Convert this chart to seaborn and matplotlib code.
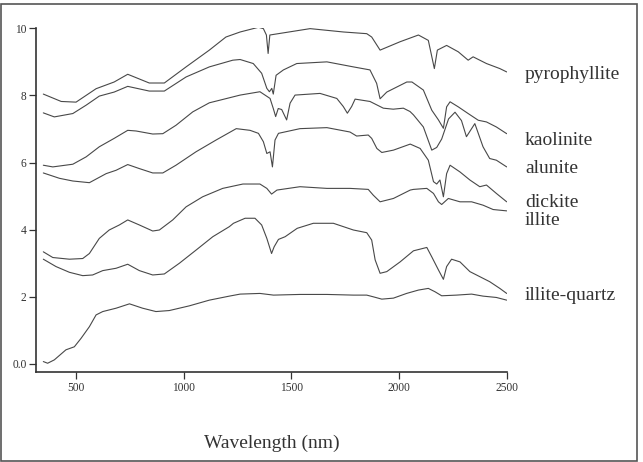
import matplotlib
matplotlib.use("Agg")
import matplotlib.pyplot as plt
import seaborn as sns
from matplotlib.patches import Rectangle

# reflectance spectra (wavelength nm, offset reflectance)
wl_pyrophyllite = [348, 431, 500, 593, 677, 740, 840, 910, 1011, 1119, 1196, 1262, 1347,
                   1370, 1384, 1392, 1400, 1587, 1742, 1850, 1873, 1912, 2005, 2090, 2136,
                   2164, 2178, 2221, 2275, 2321, 2344, 2406, 2468, 2500]
r_pyrophyllite = [8.04, 7.82, 7.80, 8.20, 8.40, 8.63, 8.37, 8.37, 8.85, 9.35, 9.74, 9.89, 10.03,
                  9.99, 9.80, 9.25, 9.80, 9.99, 9.89, 9.84, 9.74, 9.35, 9.60, 9.80, 9.64,
                  8.80, 9.35, 9.49, 9.30, 9.05, 9.15, 8.95, 8.80, 8.70]

wl_kaolinite = [348, 399, 485, 547, 608, 677, 740, 840, 910, 1011, 1119, 1228, 1262, 1323,
                1362, 1386, 1398, 1409, 1416, 1429, 1463, 1525, 1665, 1788, 1865, 1896,
                1912, 1943, 2036, 2060, 2113, 2152, 2183, 2206, 2221, 2237, 2275, 2321,
                2368, 2406, 2452, 2500]
r_kaolinite = [7.48, 7.36, 7.46, 7.71, 7.98, 8.10, 8.27, 8.13, 8.13, 8.55, 8.85, 9.05, 9.07, 8.95,
               8.66, 8.21, 8.11, 8.21, 8.04, 8.60, 8.76, 8.95, 9.00, 8.85, 8.76, 8.36,
               7.90, 8.10, 8.40, 8.40, 8.16, 7.56, 7.27, 7.02, 7.66, 7.81, 7.66, 7.46,
               7.26, 7.21, 7.06, 6.86]

wl_alunite = [348, 392, 485, 547, 608, 677, 740, 779, 856, 903, 964, 1042, 1119, 1169, 1262,
              1354, 1401, 1416, 1427, 1439, 1455, 1478, 1494, 1517, 1633, 1711, 1741, 1760,
              1780, 1796, 1865, 1896, 1927, 1973, 2020, 2051, 2067, 2113, 2152, 2175, 2198,
              2230, 2260, 2290, 2313, 2352, 2390, 2421, 2452, 2500]
r_alunite = [5.92, 5.87, 5.95, 6.17, 6.47, 6.72, 6.96, 6.94, 6.85, 6.86, 7.11, 7.51, 7.78, 7.86, 8.01,
             8.11, 7.91, 7.61, 7.37, 7.61, 7.58, 7.27, 7.77, 8.01, 8.06, 7.91, 7.67, 7.47,
             7.67, 7.89, 7.82, 7.72, 7.62, 7.59, 7.62, 7.52, 7.42, 7.06, 6.37, 6.45, 6.70,
             7.30, 7.50, 7.25, 6.77, 7.16, 6.47, 6.12, 6.07, 5.87]

wl_dickite = [348, 423, 485, 562, 585, 640, 686, 740, 794, 856, 903, 964, 1057, 1150, 1244,
              1308, 1347, 1370, 1386, 1401, 1412, 1424, 1440, 1540, 1665, 1772, 1803, 1857,
              1873, 1897, 1920, 1974, 2052, 2098, 2136, 2160, 2175, 2190, 2206, 2221, 2237,
              2283, 2329, 2375, 2406, 2452, 2500]
r_dickite = [5.69, 5.53, 5.45, 5.40, 5.48, 5.67, 5.77, 5.94, 5.82, 5.69, 5.69, 5.92, 6.32, 6.67, 7.01,
             6.96, 6.87, 6.62, 6.27, 6.32, 5.87, 6.67, 6.87, 7.01, 7.04, 6.91, 6.79, 6.82,
             6.72, 6.42, 6.30, 6.37, 6.55, 6.42, 6.07, 5.43, 5.36, 5.48, 4.98, 5.67, 5.92,
             5.72, 5.48, 5.28, 5.33, 5.08, 4.83]

wl_illite = [348, 392, 469, 531, 562, 608, 654, 701, 740, 794, 856, 887, 949, 1011, 1088, 1181,
             1275, 1354, 1386, 1408, 1433, 1540, 1665, 1772, 1857, 1880, 1912, 1974, 2052,
             2067, 2129, 2160, 2183, 2198, 2229, 2283, 2337, 2390, 2437, 2500]
r_illite = [3.34, 3.17, 3.12, 3.14, 3.29, 3.74, 3.99, 4.14, 4.29, 4.14, 3.96, 3.99, 4.29, 4.68, 4.98, 5.23,
            5.36, 5.36, 5.23, 5.06, 5.18, 5.28, 5.23, 5.23, 5.20, 5.03, 4.83, 4.93, 5.18,
            5.20, 5.23, 5.08, 4.83, 4.75, 4.93, 4.83, 4.83, 4.73, 4.60, 4.56]

wl_illite_quartz = [348, 407, 469, 531, 577, 624, 686, 740, 794, 856, 910, 980, 1057, 1135, 1212,
                    1231, 1285, 1331, 1362, 1386, 1408, 1420, 1440, 1471, 1527, 1602, 1695, 1788,
                    1850, 1873, 1889, 1912, 1943, 2005, 2067, 2129, 2152, 2183, 2206, 2221, 2244,
                    2283, 2329, 2375, 2421, 2468, 2500]
r_illite_quartz = [3.12, 2.90, 2.73, 2.63, 2.65, 2.78, 2.85, 2.97, 2.78, 2.65, 2.68, 3.00, 3.39, 3.79, 4.09,
                   4.19, 4.34, 4.34, 4.14, 3.74, 3.29, 3.49, 3.71, 3.79, 4.04, 4.19, 4.19, 3.99,
                   3.91, 3.69, 3.10, 2.70, 2.75, 3.04, 3.37, 3.47, 3.19, 2.80, 2.52, 2.90, 3.12,
                   3.04, 2.75, 2.60, 2.45, 2.25, 2.10]

wl_bottom = [348, 368, 399, 453, 492, 523, 562, 593, 624, 686, 748, 809, 871, 933, 1026, 1119,
             1212, 1262, 1354, 1417, 1540, 1665, 1788, 1850, 1880, 1920, 1974, 2035, 2090,
             2136, 2167, 2198, 2267, 2337, 2390, 2452, 2500]
r_bottom = [0.07, 0.02, 0.12, 0.42, 0.51, 0.76, 1.11, 1.46, 1.56, 1.66, 1.79, 1.66, 1.56, 1.59, 1.73, 1.90,
            2.02, 2.08, 2.10, 2.05, 2.07, 2.07, 2.05, 2.05, 2.00, 1.93, 1.96, 2.10, 2.20,
            2.25, 2.15, 2.03, 2.05, 2.08, 2.02, 1.98, 1.90]

label_names = ["pyrophyllite", "kaolinite", "alunite", "dickite", "illite", "illite-quartz"]
label_y = [8.49, 6.52, 5.69, 4.68, 4.14, 1.89]

x_ticks = [500, 1000, 1500, 2000, 2500]
y_ticks = [0, 2, 4, 6, 8, 10]
y_tick_labels = ["0.0", "2", "4", "6", "8", "10"]

curves = [
    (wl_pyrophyllite, r_pyrophyllite),
    (wl_kaolinite, r_kaolinite),
    (wl_alunite, r_alunite),
    (wl_dickite, r_dickite),
    (wl_illite, r_illite),
    (wl_illite_quartz, r_illite_quartz),
    (wl_bottom, r_bottom),
]

sns.set_style("ticks")
plt.rcParams["font.family"] = ["Liberation Serif", "DejaVu Serif"]

W, H = 643, 462
fig = plt.figure(figsize=(W / 100, H / 100), dpi=100)
ax = fig.add_axes([36 / W, 1 - 372.3 / H, (506.7 - 36) / W, (372.3 - 28.3) / H])

for wl, refl in curves:
    sns.lineplot(x=wl, y=refl, ax=ax, color="#484848", linewidth=0.8,
                 estimator=None, sort=False)

ax.set_xlim(314, 2500)
ax.set_ylim(-0.25, 10)
ax.set_xticks(x_ticks)
ax.set_yticks(y_ticks)
ax.set_yticklabels(y_tick_labels)
ax.set_xlabel("")
ax.set_ylabel("")
sns.despine(ax=ax)
for side in ["left", "bottom"]:
    ax.spines[side].set_linewidth(1.2)
    ax.spines[side].set_color("#333333")
ax.tick_params(direction="out", length=4.8, width=0.9, labelsize=8.3, pad=2,
               colors="#333333")

for name, y in zip(label_names, label_y):
    ax.text(2585, y, name, fontsize=14, va="baseline", ha="left",
            color="#333333", clip_on=False)

fig.text(272 / W, 1 - 448 / H, "Wavelength (nm)", ha="center", va="baseline",
         fontsize=14, color="#333333")

fig.patches.append(Rectangle((1 / W, 1 / H), 636 / W, 457 / H, transform=fig.transFigure,
                             fill=False, edgecolor="#555555", linewidth=1.2))

fig.savefig("out.png", dpi=100)
